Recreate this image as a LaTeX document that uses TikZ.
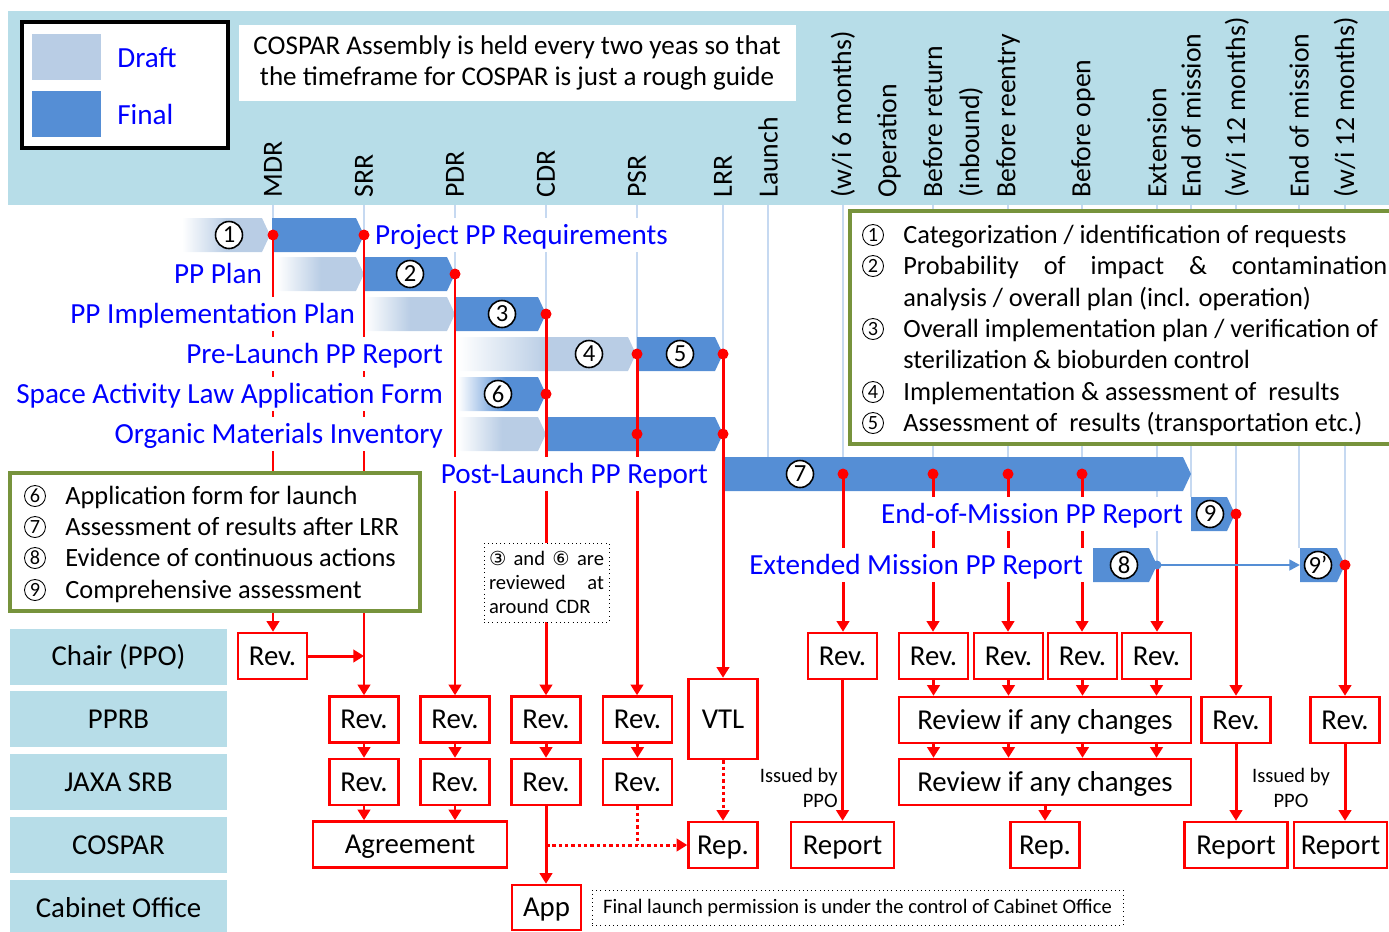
\documentclass[tikz,border=0pt]{standalone}
\usepackage{fontspec}
\setmainfont{Carlito}
\newfontfamily\symfont{DejaVu Sans}
\usetikzlibrary{arrows.meta,positioning}

\definecolor{bandblue}{HTML}{B7DDE8}
\definecolor{draftblue}{HTML}{B9CDE5}
\definecolor{finalblue}{HTML}{558ED5}
\definecolor{gridblue}{HTML}{C6D9F1}
\definecolor{legendgreen}{HTML}{77933C}
\definecolor{labelblue}{HTML}{0000FF}

\pgfdeclarehorizontalshading{draftfade}{100bp}{color(0bp)=(white); color(25bp)=(white); color(50bp)=(draftblue); color(100bp)=(draftblue)}
\pgfdeclarehorizontalshading{finalfade}{100bp}{color(0bp)=(white); color(25bp)=(white); color(52bp)=(finalblue); color(100bp)=(finalblue)}

\newlength\pxu
\setlength\pxu{0.02cm}
\newcommand\lblfont{\fontsize{16.6}{18}\selectfont}
\newcommand\hdrfont{\fontsize{15.8}{21}\selectfont}
\newcommand\boxfont{\fontsize{16.4}{18}\selectfont}
\newcommand\legfont{\fontsize{15}{17}\selectfont}
\newcommand\notefont{\fontsize{15.4}{17.6}\selectfont}
\newcommand\smallfont{\fontsize{11.7}{13.8}\selectfont}
\newcommand\numfont{\fontsize{14}{14}\selectfont}
\newcommand\lnumfont{\fontsize{11.5}{11.5}\selectfont}
\newcommand\pparrow[4]{\path[#1] (#2,#4-17) -- (#3-8,#4-17) -- (#3,#4) -- (#3-8,#4+17) -- (#2,#4+17) -- cycle;}

\begin{document}
\begin{tikzpicture}[x=0.02cm, y=-0.02cm,
		grid/.style={gridblue, line width=1pt},
		hdr/.style={rotate=90, anchor=west, inner sep=0pt, font=\hdrfont, align=left},
		lbl/.style={fill=white, text=labelblue, font=\lblfont, inner xsep=1pt, inner ysep=0pt, minimum height=34\pxu, text height=10.5pt, text depth=0pt},
		num/.style={circle, draw, fill=white, line width=0.9pt, inner sep=0pt, minimum size=27\pxu, font=\numfont},
		lnum/.style={circle, draw, line width=0.5pt, inner sep=0pt, minimum size=21\pxu, font=\lnumfont},
		legtext/.style={anchor=west, inner sep=0pt, font=\legfont, text height=9.5pt, text depth=0pt},
		legbox/.style={draw=legendgreen, line width=1.8pt, fill=white},
		lane/.style={fill=bandblue, inner sep=0pt, minimum width=217\pxu, minimum height=56\pxu, font=\boxfont, text height=10.4pt, text depth=0pt},
		rbox/.style={draw=red, line width=1.4pt, fill=white, inner sep=0pt, minimum width=69\pxu, minimum height=46\pxu, font=\boxfont, text height=10.4pt, text depth=0pt},
		redline/.style={red, line width=1.7pt},
		redarrow/.style={redline, -{Triangle[length=6pt, width=7pt]}},
		reddots/.style={redline, dash pattern=on 2pt off 1.6pt},
		note/.style={draw, dotted, fill=white, inner sep=0pt}
	]
	\useasboundingbox (0,0) rectangle (1389,931);
	\fill[bandblue] (8,11) rectangle (1389,205);
	
	\draw[line width=2pt, fill=white] (22,22) rectangle (228,148);
	\fill[draftblue] (32,34) rectangle (101,80);
	\fill[finalblue] (32,91) rectangle (101,137);
	\node[anchor=west, inner sep=0pt, text=labelblue, font=\lblfont] (draft) at (117,58) {Draft};
	\node[anchor=west, inner sep=0pt, text=labelblue, font=\lblfont] (final) at (117,114) {Final};
	\node[fill=white, minimum width=557\pxu, minimum height=76\pxu, inner sep=0pt, font=\notefont, align=center] (assembly) at (517,63) {COSPAR Assembly is held every two yeas so that\\the timeframe for COSPAR is just a rough guide};
	
	\node[hdr] (mdr) at (273,198) {MDR};
	\node[hdr] (srr) at (364,198) {SRR};
	\node[hdr] (pdr) at (455,198) {PDR};
	\node[hdr] (cdr) at (546,198) {CDR};
	\node[hdr] (psr) at (637,198) {PSR};
	\node[hdr] (lrr) at (723,198) {LRR};
	\node[hdr] (launch) at (768,198) {Launch};
	\node[hdr] (sixmonths) at (843,198) {(w/i 6 months)};
	\node[hdr] (operation) at (889,198) {Operation};
	\node[hdr] (inbound) at (953,198) {Before return\\(inbound)};
	\node[hdr] (reentry) at (1008,198) {Before reentry};
	\node[hdr] (open) at (1083,198) {Before open};
	\node[hdr] (extension) at (1157,198) {Extension};
	\node[hdr] (endmission) at (1191,198) {End of mission};
	\node[hdr] (twelvemonths) at (1237,198) {(w/i 12 months)};
	\node[hdr] (endmissionb) at (1299,198) {End of mission};
	\node[hdr] (twelvemonthsb) at (1346,198) {(w/i 12 months)};
	
	\draw[grid] (273,205) -- (273,460) (364,205) -- (364,460) (455,205) -- (455,460) (546,205) -- (546,460) (637,205) -- (637,460) (723,205) -- (723,460) (768,205) -- (768,460) (843,205) -- (843,474) (933,205) -- (933,474) (1008,205) -- (1008,474) (1082,205) -- (1082,474);
	\draw[grid] (1157,205) -- (1157,565) (1191,205) -- (1191,497) (1236,205) -- (1236,514) (1299,205) -- (1299,548) (1345,205) -- (1345,565);
	
	\pparrow{shade, shading=draftfade}{182}{270}{235}
	\pparrow{fill=finalblue}{272}{364}{235}
	\pparrow{shade, shading=draftfade}{277}{364}{274}
	\pparrow{fill=finalblue}{365}{455}{274}
	\pparrow{shade, shading=draftfade}{365}{455}{314}
	\pparrow{fill=finalblue}{456}{546}{314}
	\pparrow{shade, shading=draftfade}{458}{636}{354}
	\pparrow{fill=finalblue}{637}{723}{354}
	\pparrow{shade, shading=finalfade}{458}{546}{394}
	\pparrow{shade, shading=draftfade}{458}{546}{434}
	\pparrow{fill=finalblue}{546}{723}{434}
	\pparrow{fill=finalblue}{724}{1191}{474}
	\pparrow{fill=finalblue}{1191}{1235}{514}
	\pparrow{fill=finalblue}{1093}{1157}{565}
	\pparrow{fill=finalblue}{1300}{1345}{565}
	\node[num] (n1) at (229,235) {1};
	\node[num] (n2) at (410,274) {2};
	\node[num] (n3) at (502,314) {3};
	\node[num] (n4) at (589,354) {4};
	\node[num] (n5) at (680,354) {5};
	\node[num] (n6) at (498,394) {6};
	\node[num] (n7) at (800,474) {7};
	\node[num] (n9) at (1210,514) {9};
	\node[num] (n8) at (1124,565) {8};
	\node[num] (n9b) at (1318,565) {9’};
	
	\node[lane] (chair) at (118.5,656.5) {Chair (PPO)};
	\node[lane] (pprb) at (118.5,719) {PPRB};
	\node[lane] (jaxa) at (118.5,782) {JAXA SRB};
	\node[lane] (cospar) at (118.5,845) {COSPAR};
	\node[lane] (cabinet) at (118.5,908) {Cabinet Office};
	
	\node[rbox] (cRevA) at (272.5,656) {Rev.};
	\node[rbox] (cRevB) at (842.5,656) {Rev.};
	\node[rbox] (cRevC) at (933.5,656) {Rev.};
	\node[rbox] (cRevD) at (1008.5,656) {Rev.};
	\node[rbox] (cRevE) at (1082.5,656) {Rev.};
	\node[rbox] (cRevF) at (1156.5,656) {Rev.};
	\node[rbox] (pRevA) at (364,719.5) {Rev.};
	\node[rbox] (pRevB) at (455,719.5) {Rev.};
	\node[rbox] (pRevC) at (546,719.5) {Rev.};
	\node[rbox] (pRevD) at (637.5,719.5) {Rev.};
	\node[rbox, minimum height=80\pxu] (vtl) at (723,719) {VTL};
	\node[rbox, minimum width=292\pxu] (pReview) at (1045,720) {Review if any changes};
	\node[rbox] (pRevE) at (1236,720) {Rev.};
	\node[rbox] (pRevF) at (1345,720) {Rev.};
	\node[rbox] (jRevA) at (364,782) {Rev.};
	\node[rbox] (jRevB) at (455,782) {Rev.};
	\node[rbox] (jRevC) at (546,782) {Rev.};
	\node[rbox] (jRevD) at (637.5,782) {Rev.};
	\node[rbox, minimum width=292\pxu] (jReview) at (1045,782) {Review if any changes};
	\node[rbox, minimum width=194\pxu] (agree) at (410,844.5) {Agreement};
	\node[rbox] (repA) at (723,845) {Rep.};
	\node[rbox, minimum width=103\pxu] (reportA) at (842.5,845) {Report};
	\node[rbox] (repB) at (1045,845) {Rep.};
	\node[rbox, minimum width=103\pxu] (reportB) at (1236,845) {Report};
	\node[rbox, minimum width=93\pxu] (reportC) at (1340.5,845) {Report};
	\node[rbox, minimum height=45\pxu] (app) at (546.5,907.5) {App};
	
	\coordinate (dA) at (273,235);
	\coordinate (dB) at (364,235);
	\coordinate (dC) at (455,274);
	\coordinate (dD) at (546,314);
	\coordinate (dDb) at (546,394);
	\coordinate (dE) at (637,354);
	\coordinate (dEb) at (637,434);
	\coordinate (dF) at (723,354);
	\coordinate (dFb) at (723,434);
	\coordinate (dG) at (843,474);
	\coordinate (dH) at (933,474);
	\coordinate (dI) at (1008,474);
	\coordinate (dJ) at (1082,474);
	\coordinate (dK) at (1157,565);
	\coordinate (dL) at (1236,514);
	\coordinate (dM) at (1345,565);
	\coordinate (e9) at (1300,565);
	
	\draw[redarrow] (dA) -- (dA |- cRevA.north);
	\draw[redarrow] (dB) -- (dB |- pRevA.north);
	\draw[redarrow] (cRevA.east) -- (cRevA.east -| dB);
	\draw[redarrow] (dC) -- (dC |- pRevB.north);
	\draw[redarrow] (dD) -- (dD |- pRevC.north);
	\draw[redarrow] (dE) -- (dE |- pRevD.north);
	\draw[redarrow] (dF) -- (dF |- vtl.north);
	\draw[redarrow] (pRevA) -- (jRevA);
	\draw[redarrow] (pRevB) -- (jRevB);
	\draw[redarrow] (pRevC) -- (jRevC);
	\draw[redarrow] (pRevD) -- (jRevD);
	\draw[redarrow] (jRevA.south) -- (jRevA.south |- agree.north);
	\draw[redarrow] (jRevB.south) -- (jRevB.south |- agree.north);
	\draw[redarrow] (jRevC.south) -- (jRevC.south |- app.north);
	\draw[reddots, -{Triangle[length=6pt, width=7pt]}] (jRevC.south |- repA.west) -- (repA.west);
	\draw[reddots] (jRevD.south) -- (jRevD.south |- repA.west);
	\draw[reddots, -{Triangle[length=6pt, width=7pt]}] (vtl) -- (repA);
	\draw[redarrow] (dG) -- (dG |- cRevB.north);
	\draw[redarrow] (dH) -- (dH |- cRevC.north);
	\draw[redarrow] (dI) -- (dI |- cRevD.north);
	\draw[redarrow] (dJ) -- (dJ |- cRevE.north);
	\draw[redarrow] (dK) -- (dK |- cRevF.north);
	\draw[redarrow] (cRevB) -- (reportA);
	\draw[redarrow] (cRevC.south) -- (cRevC.south |- pReview.north);
	\draw[redarrow] (cRevD.south) -- (cRevD.south |- pReview.north);
	\draw[redarrow] (cRevE.south) -- (cRevE.south |- pReview.north);
	\draw[redarrow] (cRevF.south) -- (cRevF.south |- pReview.north);
	\draw[redarrow] (cRevC.south |- pReview.south) -- (cRevC.south |- jReview.north);
	\draw[redarrow] (cRevD.south |- pReview.south) -- (cRevD.south |- jReview.north);
	\draw[redarrow] (cRevE.south |- pReview.south) -- (cRevE.south |- jReview.north);
	\draw[redarrow] (cRevF.south |- pReview.south) -- (cRevF.south |- jReview.north);
	\draw[redarrow] (jReview) -- (repB);
	\draw[redarrow] (dL) -- (dL |- pRevE.north);
	\draw[redarrow] (pRevE) -- (reportB);
	\draw[redarrow] (dM) -- (dM |- pRevF.north);
	\draw[redarrow] (pRevF.south) -- (pRevF.south |- reportC.north);
	
	\fill[red] (dA) circle [radius=5.5\pxu] (dB) circle [radius=5.5\pxu] (dC) circle [radius=5.5\pxu] (dD) circle [radius=5.5\pxu] (dDb) circle [radius=5.5\pxu] (dE) circle [radius=5.5\pxu] (dEb) circle [radius=5.5\pxu] (dF) circle [radius=5.5\pxu] (dFb) circle [radius=5.5\pxu];
	\fill[red] (dG) circle [radius=5.5\pxu] (dH) circle [radius=5.5\pxu] (dI) circle [radius=5.5\pxu] (dJ) circle [radius=5.5\pxu] (dL) circle [radius=5.5\pxu] (dM) circle [radius=5.5\pxu];
	\draw[finalblue, line width=1.4pt, -{Triangle[length=6pt, width=6pt]}] (dK) -- (e9);
	\fill[finalblue] (dK) circle [radius=4.5\pxu];
	
	\node[lbl, anchor=west] (requirements) at (373,235) {Project PP Requirements};
	\node[lbl, anchor=east] (ppplan) at (264,274) {PP Plan};
	\node[lbl, anchor=east] (implplan) at (357,314) {PP Implementation Plan};
	\node[lbl, anchor=east] (prelaunch) at (445,354) {Pre-Launch PP Report};
	\node[lbl, anchor=east] (lawform) at (445,394) {Space Activity Law Application Form};
	\node[lbl, anchor=east] (organic) at (445,434) {Organic Materials Inventory};
	\node[lbl, anchor=east] (postlaunch) at (710,474) {Post-Launch PP Report};
	\node[lbl, anchor=east] (endreport) at (1185,514) {End-of-Mission PP Report};
	\node[lbl, anchor=east] (extreport) at (1085,565) {Extended Mission PP Report};
	
	\node[legbox, minimum width=410\pxu, minimum height=138\pxu] (legendL) at (215,542) {};
	\node[lnum] (l6) at (35,496) {6};
	\node[legtext] (t6) at (65,496) {Application form for launch};
	\node[lnum] (l7) at (35,527) {7};
	\node[legtext] (t7) at (65,527) {Assessment of results after LRR};
	\node[lnum] (l8) at (35,558) {8};
	\node[legtext] (t8) at (65,558) {Evidence of continuous actions};
	\node[lnum] (l9) at (35,590) {9};
	\node[legtext] (t9) at (65,590) {Comprehensive assessment};
	
	\node[legbox, minimum width=545\pxu, minimum height=233\pxu] (legendR) at (1122.5,327.5) {};
	\node[lnum] (r1) at (873,235) {1};
	\node[legtext] (s1) at (903,235) {Categorization / identification of requests};
	\node[lnum] (r2) at (873,266) {2};
	\node[legtext] (s2) at (903,266) {\makebox[484\pxu][s]{Probability of impact \& contamination}};
	\node[legtext] (s2b) at (903,298) {analysis / overall plan (incl. operation)};
	\node[lnum] (r3) at (873,329) {3};
	\node[legtext] (s3) at (903,329) {Overall implementation plan / verification of};
	\node[legtext] (s3b) at (903,360) {sterilization \& bioburden control};
	\node[lnum] (r4) at (873,392) {4};
	\node[legtext] (s4) at (903,392) {Implementation \& assessment of\ \ results};
	\node[lnum] (r5) at (873,423) {5};
	\node[legtext] (s5) at (903,423) {Assessment of\ \ results (transportation etc.)};
	
	\node[note, inner xsep=5\pxu, text width=115\pxu, minimum height=79\pxu, font=\smallfont, align=left] (cdrnote) at (546.5,582.5) {\makebox[115\pxu]{{\symfont\fontsize{11}{12}\selectfont③}\hfill and\hfill{\symfont\fontsize{11}{12}\selectfont⑥}\hfill are}\\\makebox[115\pxu]{reviewed\hfill at}\\around CDR};
	\node[note, minimum width=531\pxu, minimum height=35\pxu, font=\smallfont] (permission) at (857.5,907.5) {Final launch permission is under the control of Cabinet Office};
	\node[font=\smallfont, align=right, anchor=east, inner sep=0pt] (issuedA) at (838,788) {Issued by\\PPO};
	\node[font=\smallfont, align=center, inner sep=0pt] (issuedB) at (1291,788) {Issued by\\PPO};
\end{tikzpicture}
\end{document}
